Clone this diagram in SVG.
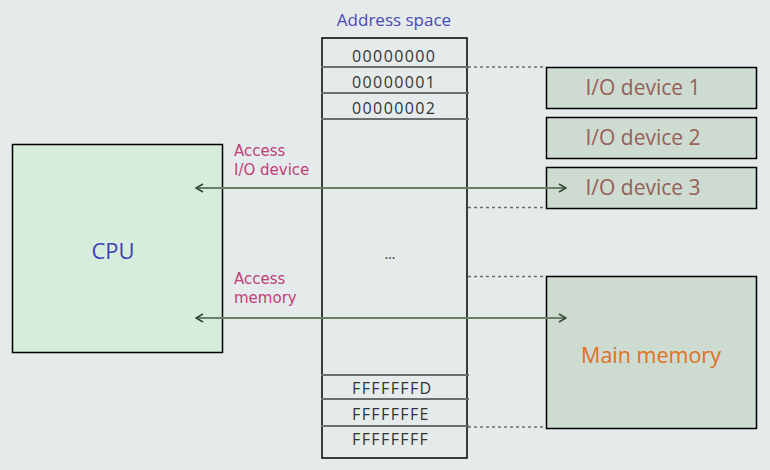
<svg xmlns="http://www.w3.org/2000/svg" width="770" height="470" viewBox="0 0 770 470">
<defs>
<style>
text{font-family:"Open Sans","Liberation Sans",sans-serif}
.box{stroke:#000;stroke-width:1.5}
.sep{stroke:#6c6f70;stroke-width:2}
.dot{stroke:#6c6f70;stroke-width:1.5;stroke-dasharray:3 3;fill:none}
.addr{font-size:16px;fill:#333;letter-spacing:1.4px}
.dev{font-size:21px;fill:#956058;text-anchor:middle}
.lbl{font-family:"DejaVu Sans","Open Sans",sans-serif;font-size:15px;fill:#c0407a}
.arr{stroke:#6a7e68;stroke-width:2;fill:none;marker-start:url(#ah);marker-end:url(#ah)}
</style>
<marker id="ah" viewBox="0 0 10 10" refX="9" refY="5" markerWidth="10" markerHeight="10" markerUnits="userSpaceOnUse" orient="auto-start-reverse">
<path d="M2 1 L9 5 L2 9" fill="none" stroke="#334433" stroke-width="1.5"/>
</marker>
</defs>
<rect width="770" height="470" fill="#e5ebea"/>

<g id="address-space">
<text x="394" y="26" font-size="17" fill="#4a48b8" text-anchor="middle">Address space</text>
<rect class="box" x="322" y="38" width="145" height="420" fill="#e5ebea"/>
<line class="sep" x1="321" y1="67" x2="469" y2="67"/>
<line class="sep" x1="321" y1="93" x2="469" y2="93"/>
<line class="sep" x1="321" y1="119" x2="469" y2="119"/>
<line class="sep" x1="321" y1="375" x2="469" y2="375"/>
<line class="sep" x1="321" y1="399" x2="469" y2="399"/>
<line class="sep" x1="321" y1="426" x2="469" y2="426"/>
<text class="addr" x="352" y="61.5">00000000</text>
<text class="addr" x="352" y="87.5">00000001</text>
<text class="addr" x="352" y="113.5">00000002</text>
<text x="390" y="259" font-size="14" fill="#333" text-anchor="middle">…</text>
<text class="addr" x="352" y="393.5">FFFFFFFD</text>
<text class="addr" x="352" y="420">FFFFFFFE</text>
<text class="addr" x="352" y="444.5">FFFFFFFF</text>
</g>

<g id="cpu">
<rect class="box" x="12.5" y="144.5" width="210" height="208" fill="#d6eddb"/>
<text x="113" y="259" font-size="22" fill="#4040b8" text-anchor="middle">CPU</text>
</g>

<g id="io1">
<rect class="box" x="546.5" y="67.5" width="210" height="41" fill="#cddbd1"/>
<text class="dev" x="643" y="95">I/O device 1</text>
</g>
<g id="io2">
<rect class="box" x="546.5" y="117.5" width="210" height="41" fill="#cddbd1"/>
<text class="dev" x="643" y="145">I/O device 2</text>
</g>
<g id="io3">
<rect class="box" x="546.5" y="167.5" width="210" height="41" fill="#cddbd1"/>
<text class="dev" x="643" y="195">I/O device 3</text>
</g>
<g id="memory">
<rect class="box" x="546.5" y="276.5" width="210" height="152" fill="#cddbd1"/>
<text x="651" y="363" font-size="21.5" fill="#e07020" text-anchor="middle">Main memory</text>
</g>

<g id="connectors">
<line class="dot" x1="468" y1="67" x2="546" y2="67"/>
<line class="dot" x1="468" y1="207.5" x2="546" y2="207.5"/>
<line class="dot" x1="468" y1="276.5" x2="546" y2="276.5"/>
<line class="dot" x1="468" y1="427" x2="546" y2="427"/>
<line class="arr" x1="196" y1="188" x2="566" y2="188"/>
<line class="arr" x1="196" y1="318" x2="566" y2="318"/>
<text class="lbl" x="234" y="156">Access</text>
<text class="lbl" x="234" y="174.5">I/O device</text>
<text class="lbl" x="234" y="283.5">Access</text>
<text class="lbl" x="234" y="302.5">memory</text>
</g>
</svg>
